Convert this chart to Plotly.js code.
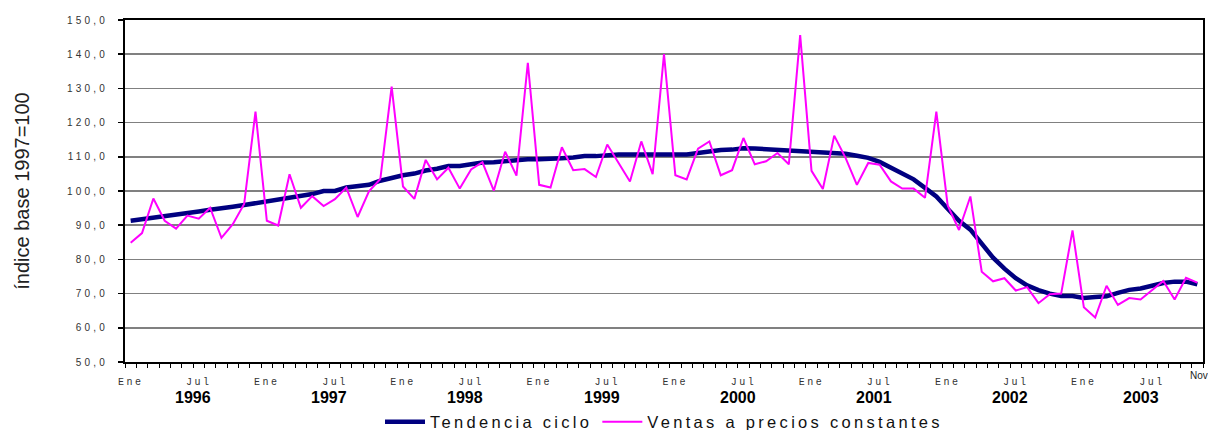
<!DOCTYPE html>
<html>
<head>
<meta charset="utf-8">
<script src="https://cdn.plot.ly/plotly-3.0.1.min.js"></script>
<style>
  html, body { margin: 0; padding: 0; background: #fff; }
  #chart { width: 1208px; height: 430px; }
  .ytick text { letter-spacing: 3.2px; }
  .xtick text { letter-spacing: 2.5px; }
  .legendtext { letter-spacing: 3.3px; }
</style>
</head>
<body>
<div id="chart"></div>
<script>
// Monthly series, Ene 1996 .. Nov 2003
const tendencia = [
  91.3, 91.7, 92.2, 92.7, 93.1, 93.6, 94.0, 94.5, 95.1, 95.4, 95.9, 96.4,
  97.1, 97.6, 98.2, 98.6, 99.1, 100.0, 100.0, 101.0, 101.5, 101.8, 103.0, 103.9,
  104.6, 105.1, 106.0, 106.5, 107.3, 107.3, 107.8, 108.3, 108.4, 108.8, 108.9, 109.3,
  109.3, 109.3, 109.6, 109.8, 110.2, 110.2, 110.5, 110.7, 110.7, 110.7, 110.7, 110.7,
  110.7, 110.7, 111.1, 111.6, 112.0, 112.1, 112.5, 112.4, 112.2, 112.2, 111.8, 111.6,
  111.5, 111.2, 111.2, 110.9, 110.3, 109.7, 108.5, 106.8, 105.2, 103.4, 100.9, 98.4,
  94.8, 91.3, 88.7, 84.6, 80.5, 77.3, 74.5, 72.4, 71.0, 70.0, 69.3, 69.3,
  68.7, 69.0, 69.2, 70.2, 71.1, 71.5, 72.4, 73.1, 73.5, 73.5, 72.7
];
const ventas = [
  84.9, 87.7, 97.8, 91.3, 89.0, 92.8, 91.9, 95.1, 86.3, 90.3, 96.2, 123.2,
  91.3, 89.9, 104.9, 95.1, 98.5, 95.6, 97.6, 101.0, 92.4, 99.9, 103.5, 130.5,
  101.3, 97.7, 109.1, 103.4, 106.8, 100.7, 106.3, 108.4, 100.1, 111.5, 104.5, 137.5,
  101.8, 101.0, 112.8, 106.1, 106.4, 104.1, 113.6, 108.0, 102.8, 114.5, 104.9, 140.0,
  104.6, 103.4, 112.4, 114.5, 104.6, 106.1, 115.5, 107.8, 108.7, 111.1, 107.8, 145.6,
  105.9, 100.6, 116.2, 109.7, 101.8, 108.2, 107.7, 102.8, 100.7, 100.7, 98.0, 123.2,
  95.8, 88.6, 98.4, 76.4, 73.6, 74.5, 70.9, 71.9, 67.2, 69.8, 70.0, 88.5,
  66.0, 63.0, 72.3, 66.7, 68.7, 68.3, 71.0, 73.7, 68.3, 74.6, 73.2
];
const years = ['1996', '1997', '1998', '1999', '2000', '2001', '2002', '2003'];
const monthTicks = ['Ene', 'Jul'];
const lastMonth = 'Nov';
const serieNames = ['Tendencia ciclo', 'Ventas a precios constantes'];

const x = ventas.map((_, i) => i);
const n = ventas.length;

const tickvals = [], ticktext = [];
for (let i = 0; i < n; i++) {
  if (i % 12 === 0) { tickvals.push(i); ticktext.push(monthTicks[0]); }
  else if (i % 12 === 6) { tickvals.push(i); ticktext.push(monthTicks[1]); }
}

const annotations = years.map((yr, k) => {
  const first = k * 12;
  const last = Math.min(first + 11, n - 1);
  return {
    x: (first + last) / 2, xref: 'x',
    y: -35 / 342, yref: 'paper', yanchor: 'middle',
    text: '<b>' + yr + '</b>', showarrow: false,
    font: { family: 'Liberation Sans Narrow, Arial Narrow, Liberation Sans, Arial', size: 16, color: '#000' }
  };
});
annotations.push({
  x: n - 1, xref: 'x', xanchor: 'left', xshift: -9,
  y: -13 / 342, yref: 'paper', yanchor: 'middle',
  text: lastMonth, showarrow: false,
  font: { family: 'Liberation Sans, Arial', size: 10, color: '#222' }
});

const traces = [
  {
    x: x, y: tendencia, name: serieNames[0], type: 'scatter', mode: 'lines',
    line: { color: '#000080', width: 4.5 }
  },
  {
    x: x, y: ventas, name: serieNames[1], type: 'scatter', mode: 'lines',
    line: { color: '#ff00ff', width: 2 }
  }
];

const layout = {
  width: 1208, height: 430,
  margin: { l: 125, r: 5, t: 20, b: 68, autoexpand: false },
  paper_bgcolor: '#fff', plot_bgcolor: '#fff',
  showlegend: true,
  legend: {
    orientation: 'h', x: 0.5, xanchor: 'center',
    yref: 'container', y: 8 / 430, yanchor: 'middle',
    font: { family: 'Liberation Sans, Arial', size: 16.5, color: '#111' },
    itemwidth: 40, tracegroupgap: 0
  },
  xaxis: {
    range: [-0.5, n - 0.5],
    tickvals: tickvals, ticktext: ticktext,
    ticks: '', ticklabelstandoff: 9,
    tickfont: { family: 'Liberation Mono, Courier New, monospace', size: 10, color: '#333' },
    showgrid: false, zeroline: false,
    showline: true, mirror: true, linecolor: '#000', linewidth: 2,
    minor: { tick0: -0.5, dtick: 1, ticks: 'outside', ticklen: 4, tickwidth: 1, tickcolor: '#000', showgrid: false },
    automargin: false,
    fixedrange: true
  },
  yaxis: {
    range: [50, 150], dtick: 10, tick0: 50,
    tickformat: '.1f',
    ticks: 'outside', ticklen: 5, tickwidth: 1.5, tickcolor: '#000', ticklabelstandoff: 8,
    tickfont: { family: 'Liberation Sans, Arial', size: 10, color: '#333' },
    showgrid: true, gridcolor: '#808080', gridwidth: 1.5,
    zeroline: false,
    showline: true, mirror: true, linecolor: '#000', linewidth: 2,
    title: { text: 'índice base 1997=100', standoff: 32,
      font: { family: 'Liberation Sans, Arial', size: 20, color: '#222' } },
    automargin: false,
    fixedrange: true
  },
  separators: ',.',
  annotations: annotations
};

Plotly.newPlot('chart', traces, layout, { displayModeBar: false, staticPlot: true });
</script>
</body>
</html>
